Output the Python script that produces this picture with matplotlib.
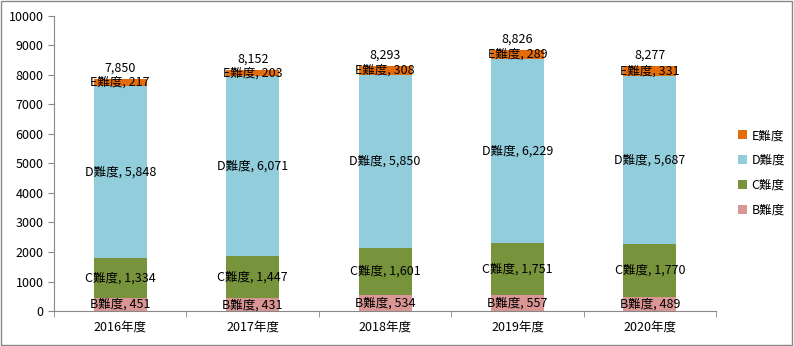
import matplotlib
matplotlib.use("Agg")
import matplotlib.pyplot as plt
import matplotlib.patches as mpatches
import numpy as np

plt.rcParams['font.family'] = ['Noto Sans CJK JP', 'DejaVu Sans']

# Data
years = ["2016年度", "2017年度", "2018年度", "2019年度", "2020年度"]
levels = ["B難度", "C難度", "D難度", "E難度"]
b_vals = [451, 431, 534, 557, 489]
c_vals = [1334, 1447, 1601, 1751, 1770]
d_vals = [5848, 6071, 5850, 6229, 5687]
e_vals = [217, 203, 308, 289, 331]
colors = ["#D99694", "#77933C", "#92CDDC", "#E46C0A"]

series = [b_vals, c_vals, d_vals, e_vals]
totals = [sum(v) for v in zip(*series)]

fig = plt.figure(figsize=(7.94, 3.46), dpi=100)
ax = fig.add_axes([0.068, 0.101, 0.834, 0.854])

x = np.arange(len(years))
bottom = np.zeros(len(years))
handles = []
for name, vals, col in zip(levels, series, colors):
    bars = ax.bar(x, vals, width=0.4, bottom=bottom, color=col, label=name)
    for xi, b, v in zip(x, bottom, vals):
        ax.text(xi, b + v / 2, f"{name}, {v:,}", ha="center", va="center",
                fontsize=9, color="black")
    bottom += np.array(vals)
    handles.append(bars)

for xi, t in zip(x, totals):
    ax.text(xi, t + 150, f"{t:,}", ha="center", va="bottom", fontsize=9)

ax.set_xlim(-0.5, len(years) - 0.5)
ax.set_ylim(0, 10000)
ax.set_yticks(range(0, 10001, 1000))
ax.set_xticks(x)
ax.set_xticklabels(years)
ax.set_xticks(np.arange(-0.5, len(years)), minor=True)
ax.tick_params(axis="x", which="major", length=0, labelsize=9, pad=7)
ax.tick_params(axis="x", which="minor", length=4, color="#888888", direction="out")
ax.tick_params(axis="y", length=4, color="#888888", labelsize=9)

for side in ["top", "right"]:
    ax.spines[side].set_visible(False)
for side in ["left", "bottom"]:
    ax.spines[side].set_color("#888888")

leg = fig.legend(handles[::-1], levels[::-1], loc="center left",
                 bbox_to_anchor=(0.915, 0.5), frameon=False, fontsize=9,
                 handlelength=0.7, handleheight=0.7, labelspacing=0.95,
                 handletextpad=0.4)

# outer frame
fig.patches.append(mpatches.Rectangle((0.001, 0.003), 0.997, 0.994,
                                      transform=fig.transFigure, fill=False,
                                      edgecolor="#888888", linewidth=1))

fig.savefig("out.png", dpi=100)
